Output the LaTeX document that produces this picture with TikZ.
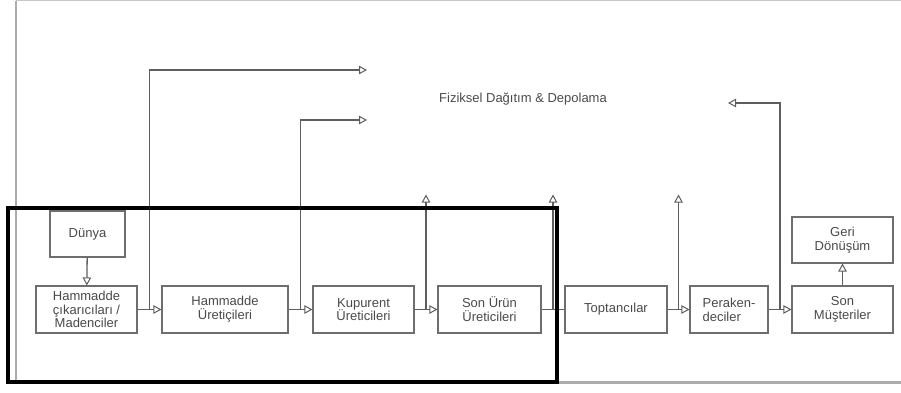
\documentclass[tikz,border=0pt]{standalone}
\usepackage{fontspec}
\setmainfont{Liberation Sans}
\usetikzlibrary{arrows.meta,calc}
\definecolor{txt}{HTML}{4A4A4A}
\definecolor{edge}{HTML}{6E6E6E}
\definecolor{wire}{HTML}{5E5E5E}
\tikzset{
  stage/.style={draw=edge, line width=1.1pt, fill=white, text=txt, align=center,
    minimum height=47pt, inner sep=1pt, font=\fontsize{13}{13.8}\selectfont},
  flow/.style={draw=wire, line width=1.3pt,
    -{Triangle[open, length=8pt, width=8.5pt, line width=1pt]}},
  link/.style={draw=wire, line width=1.3pt},
}
\begin{document}
\begin{tikzpicture}[x=1pt, y=-1pt]
\useasboundingbox (0,0) rectangle (901,392);

% page frame (runs off to the right)
\draw[gray!45, line width=1pt] (16,0.5) -- (905,0.5);
\draw[gray!65, line width=2.2pt] (905,382.5) -- (16,382.5) -- (16,0.5);

% stages of the chain
\node[stage, minimum width=75pt, minimum height=46pt] (dunya) at (87.5,234) {Dünya};
\node[stage, minimum width=101pt] (hc)  at (86.5,309.5) {Hammadde\\çıkarıcıları /\\Madenciler};
\node[stage, minimum width=126pt] (hu)  at (225,309.5)  {Hammadde\\Üretiçileri};
\node[stage, minimum width=101pt] (ku)  at (363.5,309.5) {Kupurent\\Üreticileri};
\node[stage, minimum width=103pt] (su)  at (489.5,309.5) {Son Ürün\\Üreticileri};
\node[stage, minimum width=102pt] (top) at (616,309.5)  {Toptancılar};
\node[stage, minimum width=78pt, align=left] (per) at (729,309.5) {Peraken-\\deciler};
\node[stage, minimum width=101pt] (sm)  at (842.5,309.5) {Son\\Müşteriler};
\node[stage, minimum width=101pt, minimum height=46pt] (geri) at (842.5,240) {Geri\\Dönüşüm};

\node[text=txt, font=\fontsize{13}{14}\selectfont] (fdd) at (523,99) {Fiziksel Dağıtım \& Depolama};

% main flow
\draw[flow] (dunya) -- (hc);
\draw[flow] (hc) -- (hu);
\draw[flow] (hu) -- (ku);
\draw[flow] (ku) -- (su);
\draw[link] (su) -- (top);
\draw[flow] (top) -- (per);
\draw[flow] (per) -- (sm);
\draw[flow] (sm) -- (geri);

% branch points between neighbouring stages
\coordinate (b1) at ($(hc.east)!0.5!(hu.west)$);
\coordinate (b2) at ($(hu.east)!0.5!(ku.west)$);
\coordinate (b3) at ($(ku.east)!0.5!(su.west)$);
\coordinate (b4) at ($(su.east)!0.5!(top.west)$);
\coordinate (b5) at ($(top.east)!0.5!(per.west)$);
\coordinate (b6) at ($(per.east)!0.5!(sm.west)$);

% open ends towards distribution & storage
\coordinate (e1) at (367,70);
\coordinate (e2) at (367,120);
\coordinate (e3) at ($(b3)+(0,-115)$);
\coordinate (e4) at ($(b4)+(0,-115)$);
\coordinate (e5) at ($(b5)+(0,-115)$);
\coordinate (e6) at (728,103);

\draw[flow] (b1) |- (e1);
\draw[flow] (b2) |- (e2);
\draw[flow] (b3) -- (e3);
\draw[flow] (b4) -- (e4);
\draw[flow] (b5) -- (e5);
\draw[flow] (b6) |- (e6);

% highlighted group
\draw[black, line width=4pt] (8,208) rectangle (557,382);
\end{tikzpicture}
\end{document}
